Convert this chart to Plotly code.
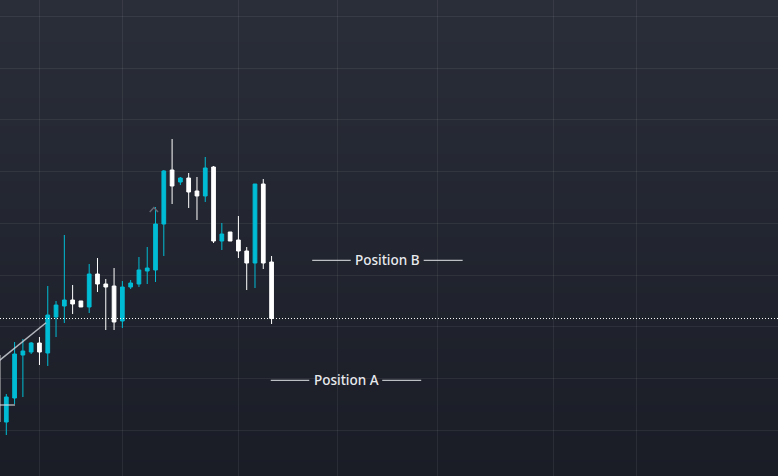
import base64
import struct
import zlib

import plotly.graph_objects as go

# ---------------- data ----------------
bar_index = list(range(-1, 33))
opens = [114.55, 101.60, 106.24, 114.55, 115.13, 116.87, 114.94, 121.89, 124.02, 125.18,
         124.99, 123.83, 130.20, 128.27, 127.88, 121.12, 127.69, 128.27, 130.78, 130.98,
         139.86, 150.30, 147.98, 148.75, 146.24, 145.28, 150.88, 136.58, 138.32, 136.77,
         134.65, 132.33, 147.59, 132.52]
highs = [115.30, 107.01, 117.06, 117.64, 117.06, 118.03, 127.88, 124.99, 137.74, 128.08,
         124.99, 132.14, 133.29, 129.24, 131.36, 128.85, 129.04, 133.49, 135.42, 143.15,
         150.30, 156.29, 148.95, 149.72, 148.95, 152.81, 151.07, 140.06, 138.32, 141.41,
         135.42, 147.59, 148.56, 133.68]
lows = [100.80, 99.09, 105.08, 106.43, 114.74, 112.62, 112.43, 118.03, 120.73, 122.47,
        123.83, 122.67, 126.72, 119.38, 119.38, 119.77, 127.30, 127.69, 128.27, 128.66,
        133.68, 143.73, 147.40, 142.96, 140.64, 144.12, 136.19, 134.84, 136.58, 133.29,
        127.11, 127.50, 131.17, 120.54]
closes = [101.60, 106.43, 114.74, 115.32, 116.87, 115.13, 122.28, 124.21, 125.18, 124.41,
          123.83, 130.20, 128.27, 127.69, 120.93, 127.69, 128.46, 130.98, 131.36, 139.86,
          150.11, 147.21, 148.75, 146.05, 145.28, 150.69, 136.58, 137.93, 136.58, 134.65,
          132.33, 147.59, 132.33, 121.60]

# grid positions (bar index / price)
x_grid = [4, 14, 28, 40, 52, 66, 76]
y_grid = [100, 110, 120, 130, 140, 150, 160, 170, 180]

# drawings
trend_x = [-2.0, 4.79]
trend_y = [111.97, 120.79]
hline_x = [-1.2, 1.05]
hline_y = [104.89, 104.89]
chevron_x = [17.3, 17.8, 18.3]
chevron_y = [142.18, 143.05, 142.18]

label_text = ["Position A", "Position B"]
label_x = [41.0, 46.0]
label_y = [109.66, 132.85]

# ---------------- styling ----------------
UP = "#00bcd4"
DOWN = "#ffffff"
GRID = "rgba(255,255,255,0.065)"
TOP_RGB = (42, 46, 57)
BOT_RGB = (26, 29, 38)


def gradient_png(top, bottom, h=256):
    rows = b""
    for r in range(h):
        t = r / (h - 1)
        px = bytes(int(round(top[k] + (bottom[k] - top[k]) * t)) for k in range(3))
        rows += b"\x00" + px

    def chunk(tag, data):
        c = struct.pack(">I", len(data)) + tag + data
        return c + struct.pack(">I", zlib.crc32(tag + data) & 0xFFFFFFFF)

    png = b"\x89PNG\r\n\x1a\n"
    png += chunk(b"IHDR", struct.pack(">IIBBBBB", 1, h, 8, 2, 0, 0, 0))
    png += chunk(b"IDAT", zlib.compress(rows, 9))
    png += chunk(b"IEND", b"")
    return "data:image/png;base64," + base64.b64encode(png).decode()


fig = go.Figure()

fig.add_trace(go.Candlestick(
    x=bar_index, open=opens, high=highs, low=lows, close=closes,
    increasing=dict(line=dict(color=UP, width=1), fillcolor=UP),
    decreasing=dict(line=dict(color=DOWN, width=1), fillcolor=DOWN),
    whiskerwidth=0, showlegend=False, hoverinfo="skip",
))

fig.add_trace(go.Scatter(x=trend_x, y=trend_y, mode="lines",
                         line=dict(color="rgba(205,208,215,0.85)", width=1.5),
                         showlegend=False, hoverinfo="skip"))
fig.add_trace(go.Scatter(x=hline_x, y=hline_y, mode="lines",
                         line=dict(color="rgba(215,218,224,0.9)", width=1.2),
                         showlegend=False, hoverinfo="skip"))
fig.add_trace(go.Scatter(x=chevron_x, y=chevron_y, mode="lines",
                         line=dict(color="#656974", width=1.5),
                         showlegend=False, hoverinfo="skip"))

# last-close dotted line
fig.add_shape(type="line", xref="paper", x0=0, x1=1, yref="y",
              y0=closes[-1], y1=closes[-1],
              line=dict(color="#ffffff", width=1, dash="1px,2px"))

# labels with side rules
for t, lx, ly in zip(label_text, label_x, label_y):
    fig.add_annotation(x=lx, y=ly, xref="x", yref="y", text=t, showarrow=False,
                       font=dict(family="Noto Sans", size=13.5, color="#e8eaee", weight=500),
                       xanchor="center", yanchor="middle")
    for a, b in ((-9.1, -4.45), (4.35, 9.05)):
        fig.add_shape(type="line", xref="x", yref="y", x0=lx + a, x1=lx + b,
                      y0=ly, y1=ly, line=dict(color="#e4e6ea", width=1))

fig.add_layout_image(dict(source=gradient_png(TOP_RGB, BOT_RGB), xref="paper", yref="paper",
                          x=0, y=1, sizex=1, sizey=1, sizing="stretch",
                          xanchor="left", yanchor="top", layer="below"))

fig.update_layout(
    width=778, height=476,
    margin=dict(l=0, r=0, t=0, b=0),
    paper_bgcolor="#22252f",
    plot_bgcolor="rgba(0,0,0,0)",
    boxgap=0.36,
    showlegend=False,
    xaxis=dict(range=[-0.76, 93.09], tickvals=x_grid, showticklabels=False,
               showgrid=True, gridcolor=GRID, gridwidth=1, zeroline=False,
               showline=False, ticks="", rangeslider=dict(visible=False), fixedrange=True),
    yaxis=dict(range=[91.17, 183.15], tickvals=y_grid, showticklabels=False,
               showgrid=True, gridcolor=GRID, gridwidth=1, zeroline=False,
               showline=False, ticks="", fixedrange=True),
)

fig.write_html("out.html")
